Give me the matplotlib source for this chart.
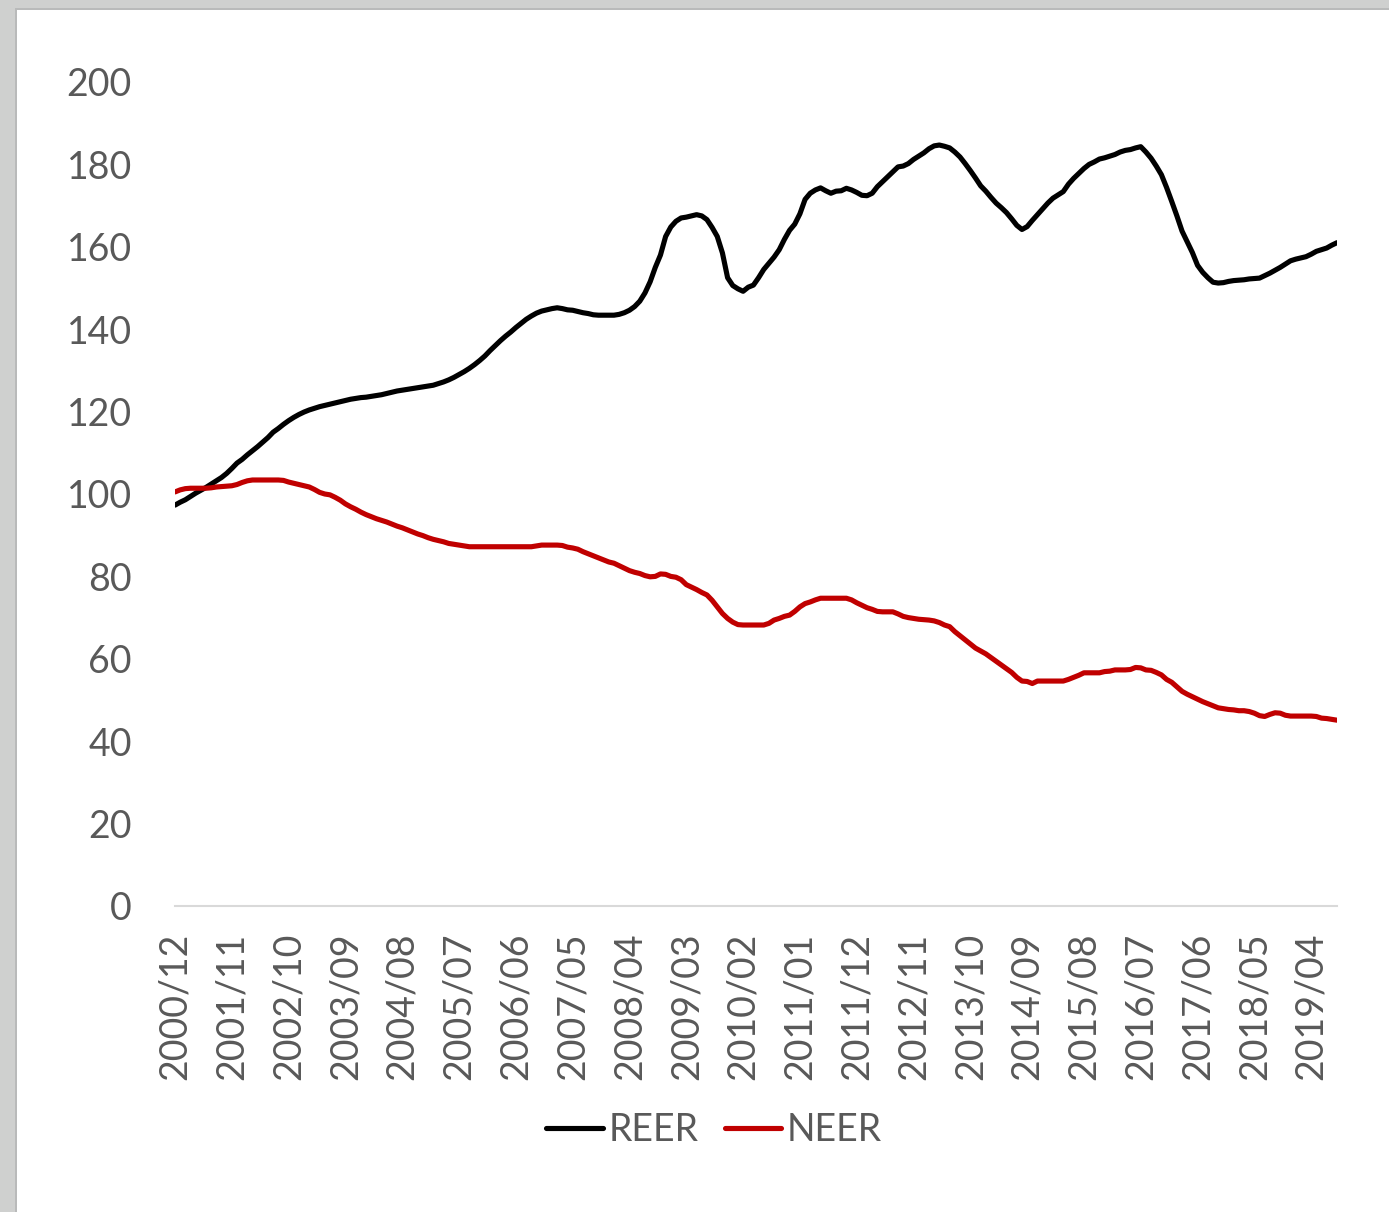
import matplotlib.pyplot as plt
import numpy as np
import pandas as pd
from matplotlib.patches import Rectangle

# monthly categories 2000/12 .. 2019/09
months = pd.period_range("2000-12", "2019-09", freq="M").strftime("%Y/%m").tolist()

reer = [
    97.3,
    98.0, 98.6, 99.4, 100.2, 100.9, 101.6, 102.4, 103.2, 104.0, 105.0, 106.2, 107.5,
    108.4, 109.5, 110.5, 111.5, 112.6, 113.7, 115.0, 115.9, 116.9, 117.8, 118.6, 119.3,
    119.9, 120.4, 120.8, 121.2, 121.5, 121.8, 122.1, 122.4, 122.7, 123.0, 123.2, 123.4,
    123.5, 123.7, 123.9, 124.1, 124.4, 124.7, 125.0, 125.2, 125.4, 125.6, 125.8, 126.0,
    126.2, 126.4, 126.8, 127.2, 127.7, 128.3, 129.0, 129.7, 130.5, 131.4, 132.4, 133.5,
    134.8, 136.0, 137.2, 138.3, 139.3, 140.4, 141.4, 142.4, 143.2, 143.9, 144.4, 144.7,
    145.0, 145.2, 145.0, 144.7, 144.6, 144.3, 144.0, 143.8, 143.5, 143.4, 143.4, 143.4,
    143.4, 143.6, 144.0, 144.6, 145.5, 146.8, 148.8, 151.5, 155.0, 158.0, 162.5, 164.8,
    166.2, 167.0, 167.2, 167.5, 167.8, 167.5, 166.6, 164.7, 162.5, 158.5, 152.5, 150.6,
    149.8, 149.2, 150.2, 150.7, 152.5, 154.5, 156.0, 157.5, 159.3, 161.8, 164.0, 165.5,
    168.0, 171.5, 173.0, 173.8, 174.3, 173.6, 173.0, 173.5, 173.6, 174.2, 173.8, 173.2,
    172.5, 172.4, 173.0, 174.6, 175.8, 177.0, 178.2, 179.4, 179.6, 180.2, 181.2, 182.0,
    182.8, 183.8, 184.5, 184.7, 184.4, 184.0, 183.0, 181.8, 180.2, 178.5, 176.7, 174.8,
    173.5, 172.0, 170.6, 169.5, 168.3, 166.8, 165.2, 164.2, 164.9, 166.4, 167.8, 169.2,
    170.6, 171.8, 172.6, 173.4, 175.2, 176.6, 177.8, 179.0, 180.0, 180.6, 181.3, 181.6,
    182.0, 182.4, 183.0, 183.4, 183.6, 184.0, 184.3, 183.0, 181.5, 179.6, 177.5, 174.4,
    171.0, 167.5, 163.8, 161.2, 158.6, 155.5, 153.8, 152.5, 151.4, 151.2, 151.3, 151.6,
    151.8, 151.9, 152.0, 152.2, 152.3, 152.4, 153.0, 153.6, 154.3, 155.0, 155.8, 156.6,
    157.0, 157.3, 157.6, 158.2, 158.9, 159.3, 159.7, 160.4, 161.0,
]

neer = [
    100.5,
    101.0, 101.3, 101.4, 101.4, 101.4, 101.4, 101.5, 101.7, 101.8, 101.9, 102.0, 102.3,
    102.8, 103.2, 103.4, 103.4, 103.4, 103.4, 103.4, 103.4, 103.3, 102.9, 102.6, 102.3,
    102.0, 101.7, 101.1, 100.4, 100.0, 99.8, 99.2, 98.5, 97.6, 96.9, 96.3, 95.6,
    95.0, 94.5, 94.0, 93.6, 93.2, 92.7, 92.2, 91.8, 91.3, 90.8, 90.3, 89.9,
    89.4, 89.0, 88.7, 88.4, 88.0, 87.8, 87.6, 87.4, 87.2, 87.2, 87.2, 87.2,
    87.2, 87.2, 87.2, 87.2, 87.2, 87.2, 87.2, 87.2, 87.2, 87.4, 87.6, 87.6,
    87.6, 87.6, 87.5, 87.1, 86.9, 86.6, 86.0, 85.5, 85.0, 84.5, 84.0, 83.5,
    83.2, 82.6, 82.0, 81.4, 81.0, 80.7, 80.2, 79.9, 80.0, 80.6, 80.5, 80.0,
    79.8, 79.2, 78.0, 77.4, 76.8, 76.1, 75.5, 74.2, 72.6, 71.0, 69.8, 68.9,
    68.3, 68.2, 68.2, 68.2, 68.2, 68.2, 68.6, 69.4, 69.8, 70.3, 70.6, 71.5,
    72.6, 73.4, 73.8, 74.3, 74.7, 74.7, 74.7, 74.7, 74.7, 74.7, 74.3, 73.6,
    73.0, 72.4, 72.0, 71.5, 71.4, 71.4, 71.4, 70.9, 70.3, 70.0, 69.8, 69.6,
    69.5, 69.4, 69.2, 68.8, 68.2, 67.8, 66.6, 65.6, 64.6, 63.6, 62.6, 61.9,
    61.2, 60.3, 59.4, 58.5, 57.6, 56.7, 55.5, 54.6, 54.5, 54.0, 54.6, 54.6,
    54.6, 54.6, 54.6, 54.6, 55.0, 55.5, 56.0, 56.6, 56.6, 56.6, 56.6, 56.9,
    57.0, 57.3, 57.3, 57.3, 57.4, 57.9, 57.8, 57.3, 57.2, 56.7, 56.1, 55.0,
    54.3, 53.2, 52.1, 51.4, 50.8, 50.2, 49.6, 49.1, 48.6, 48.1, 47.9, 47.7,
    47.6, 47.4, 47.4, 47.2, 46.8, 46.2, 46.0, 46.5, 46.9, 46.8, 46.3, 46.1,
    46.1, 46.1, 46.1, 46.1, 46.0, 45.6, 45.5, 45.3, 45.1,
]

tick_labels = [
    "2000/12", "2001/11", "2002/10", "2003/09", "2004/08", "2005/07", "2006/06",
    "2007/05", "2008/04", "2009/03", "2010/02", "2011/01", "2011/12", "2012/11",
    "2013/10", "2014/09", "2015/08", "2016/07", "2017/06", "2018/05", "2019/04",
]
y_ticks = [0, 20, 40, 60, 80, 100, 120, 140, 160, 180, 200]

W, H = 1389, 1212
plt.rcParams["font.family"] = ["Lato", "DejaVu Sans"]
txt = "#595959"

fig = plt.figure(figsize=(W / 100, H / 100), dpi=100, facecolor="#cfd0cf")
# white chart area with a faint shadow edge
fig.patches.append(Rectangle((15 / W, 0), 1, (H - 8) / H, transform=fig.transFigure,
                             facecolor="#b9baba", edgecolor="none", zorder=-2))
fig.patches.append(Rectangle((17 / W, 0), 1, (H - 10) / H, transform=fig.transFigure,
                             facecolor="white", edgecolor="none", zorder=-1))

ax = fig.add_axes([175 / W, (H - 906) / H, (1337 - 175) / W, (906 - 82) / H])
ax.set_facecolor("none")

x = np.arange(len(months))
ax.plot(x, reer, color="black", linewidth=3.7, label="REER", solid_capstyle="round")
ax.plot(x, neer, color="#c00000", linewidth=3.7, label="NEER", solid_capstyle="round")

ax.set_xlim(0, len(months) - 1)
ax.set_ylim(0, 200)
ax.set_yticks(y_ticks)
ax.set_yticklabels([str(v) for v in y_ticks])
tick_pos = [months.index(t) for t in tick_labels]
ax.set_xticks(tick_pos)
ax.set_xticklabels(tick_labels, rotation=90)

for s in ["top", "right", "left"]:
    ax.spines[s].set_visible(False)
ax.spines["bottom"].set_color("#d9d9d9")
ax.spines["bottom"].set_linewidth(1.5)
ax.tick_params(axis="y", length=0, pad=31, labelsize=27, labelcolor=txt)
ax.tick_params(axis="x", length=0, pad=19, labelsize=27, labelcolor=txt)

fig.legend(loc="center", bbox_to_anchor=(714 / W, 1 - 1130 / H), ncol=2,
           frameon=False, fontsize=27, labelcolor=txt, handlelength=1.5,
           handletextpad=0.15, columnspacing=0.7)

fig.savefig("out.png", dpi=100, facecolor=fig.get_facecolor())
